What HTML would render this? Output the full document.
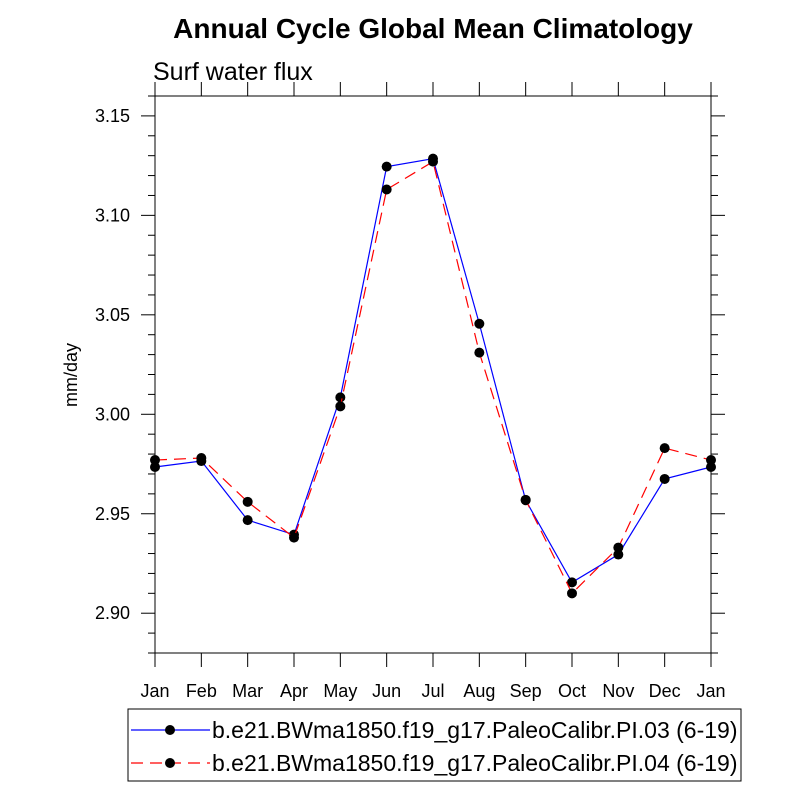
<!DOCTYPE html>
<html><head><meta charset="utf-8"><style>
body{margin:0;background:#fff;font-family:"Liberation Sans",Arial,sans-serif}
</style></head><body>
<svg width="800" height="800" xmlns="http://www.w3.org/2000/svg" font-family="Liberation Sans, Arial, sans-serif">
<text x="433" y="38" text-anchor="middle" font-size="28" font-weight="bold">Annual Cycle Global Mean Climatology</text>
<text x="153" y="80" font-size="25">Surf water flux</text>
<text transform="translate(77,375) rotate(-90)" text-anchor="middle" font-size="18">mm/day</text>
<g id="axes"></g>
<g id="series"></g>
<g>
<rect x="128" y="709" width="613" height="72" fill="none" stroke="#000" stroke-width="1"/>
<g>
<line x1="131" y1="730" x2="210" y2="730" stroke="#0000ff" stroke-width="1.2"/>
<circle cx="170" cy="730" r="5" fill="#000"/>
<text x="212" y="738" font-size="23">b.e21.BWma1850.f19_g17.PaleoCalibr.PI.03 (6-19)</text>
</g>
<g>
<line x1="131" y1="763" x2="210" y2="763" stroke="#ff0000" stroke-width="1.2" stroke-dasharray="12,7"/>
<circle cx="170" cy="763" r="5" fill="#000"/>
<text x="212" y="771" font-size="23">b.e21.BWma1850.f19_g17.PaleoCalibr.PI.04 (6-19)</text>
</g>
</g>
</svg>
<script>
const months=["Jan","Feb","Mar","Apr","May","Jun","Jul","Aug","Sep","Oct","Nov","Dec","Jan"];
const seriesA=[2.9735,2.9765,2.9468,2.9395,3.0085,3.1245,3.1285,3.0455,2.9568,2.9155,2.9295,2.9675,2.9735];
const seriesB=[2.977,2.978,2.956,2.938,3.004,3.113,3.127,3.031,2.957,2.910,2.933,2.983,2.977];
const yTicks=["2.90","2.95","3.00","3.05","3.10","3.15"];
const L=155,R=711,T=96,B=653,ymin=2.88,ymax=3.16;
const NS="http://www.w3.org/2000/svg";
const xs=i=>L+i*(R-L)/12;
const ys=v=>B-(v-ymin)/(ymax-ymin)*(B-T);
function mk(t,a,p){const e=document.createElementNS(NS,t);for(const k in a)e.setAttribute(k,a[k]);p.appendChild(e);return e;}
const ax=document.getElementById('axes');
const fr=mk('rect',{x:L,y:T,width:R-L,height:B-T,fill:'none',stroke:'#000','stroke-width':1},ax);


for(let i=0;i<months.length;i++){
  const x=xs(i);
  mk('line',{x1:x,y1:B,x2:x,y2:B+14,stroke:'#000'},ax);
  mk('line',{x1:x,y1:T,x2:x,y2:T-14,stroke:'#000'},ax);
  const t=mk('text',{x:x,y:B+44,'text-anchor':'middle','font-size':18},ax);
  t.textContent=months[i];
  
  
}
for(let k=0;k<=28;k++){
  const v=ymin+k*0.01,y=ys(v),major=(k+3)%5===0;
  const len=major?14:7;
  mk('line',{x1:L,y1:y,x2:L-len,y2:y,stroke:'#000'},ax);
  mk('line',{x1:R,y1:y,x2:R+len,y2:y,stroke:'#000'},ax);
}
yTicks.forEach(s=>{
  const y=ys(parseFloat(s));
  const t=mk('text',{x:L-25,y:y+6,'text-anchor':'end','font-size':18},ax);
  t.textContent=s;
  
  
});
const sg=document.getElementById('series');
function draw(data,color,dash,name){
  const g=mk('g',{},sg);
  
  
  const pts=data.map((v,i)=>xs(i)+','+ys(v)).join(' ');
  const a={points:pts,fill:'none',stroke:color,'stroke-width':1.2};
  if(dash)a['stroke-dasharray']=dash;
  mk('polyline',a,g);
  data.forEach((v,i)=>{
    const c=mk('circle',{cx:xs(i),cy:ys(v),r:5,fill:'#000'},g);
    
    
  });
}
draw(seriesA,'#0000ff',null,'series-pi03');
draw(seriesB,'#ff0000','12,7','series-pi04');
</script>
</body></html>
